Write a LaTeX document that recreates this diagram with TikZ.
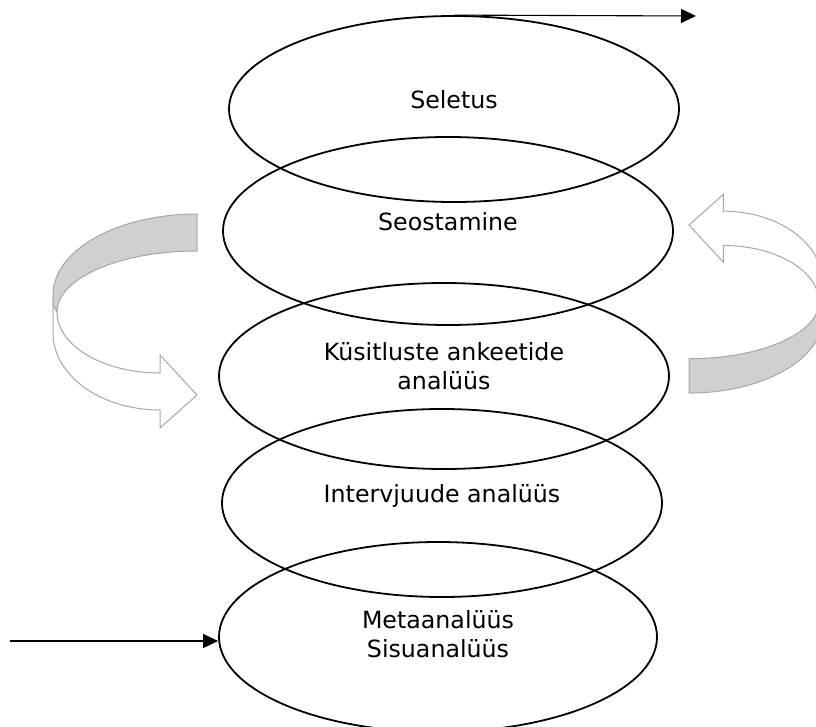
\documentclass[tikz,border=0pt]{standalone}
\usepackage{fontspec}
\setmainfont{DejaVu Sans}
\usetikzlibrary{shapes.geometric,arrows.meta}
\definecolor{rbfill}{RGB}{208,208,208}
\definecolor{rbline}{RGB}{166,166,166}
\tikzset{
  lvl/.style={draw, ellipse, line width=1.8bp, inner sep=0pt, align=center,
    font=\fontsize{23.8}{29}\selectfont, text depth=20bp},
  tip/.style={draw, line width=1.1bp, -{Triangle[length=15bp,width=14bp]}},
  ribbon/.pic={
    \path[draw=rbline, fill=white, line width=1bp] (-144,5) -- (-144,-28)
      arc[start angle=180, end angle=270, x radius=107, y radius=77]
      -- (-37,-123) -- (0,-90) -- (-37,-50) -- (-37,-68)
      arc[start angle=270, end angle=180, x radius=103, y radius=61] -- cycle;
    \path[draw=rbline, fill=rbfill, line width=1bp] (0,91)
      arc[start angle=90, end angle=180, x radius=144, y radius=81]
      -- (-144,0) -- (-140,-7)
      arc[start angle=180, end angle=90, x radius=140, y radius=61] -- cycle;
  }
}
\begin{document}
\begin{tikzpicture}[x=1bp, y=1bp]
      \useasboundingbox (0,0) rectangle (816,-727);
      \pic (lturn) at (197,-305) {ribbon};
      \pic[rotate=180, scale=.928] (rturn) at (689,-308.6) {ribbon};
      \node[lvl, minimum width=450bp, minimum height=186bp] at (454,-109) (seletus) {Seletus};
      \node[lvl, minimum width=450bp, minimum height=188bp] at (448,-231) (seostamine) {Seostamine};
      \node[lvl, minimum width=450bp, minimum height=186bp] at (444,-376) (ankeedid) {Küsitluste ankeetide\\analüüs};
      \node[lvl, minimum width=440bp, minimum height=188bp] at (442,-503) (intervjuud) {Intervjuude analüüs};
      \node[lvl, minimum width=438bp, minimum height=190bp, text depth=6bp] at (438,-637) (meta) {Metaanalüüs\\Sisuanalüüs};
      \coordinate (out) at (696,-16);
      \coordinate (in) at (10,-641);
      \path[tip] (seletus.north) -- (out);
      \path[tip] (in) -- (in -| meta.west);
    \end{tikzpicture}
\end{document}
